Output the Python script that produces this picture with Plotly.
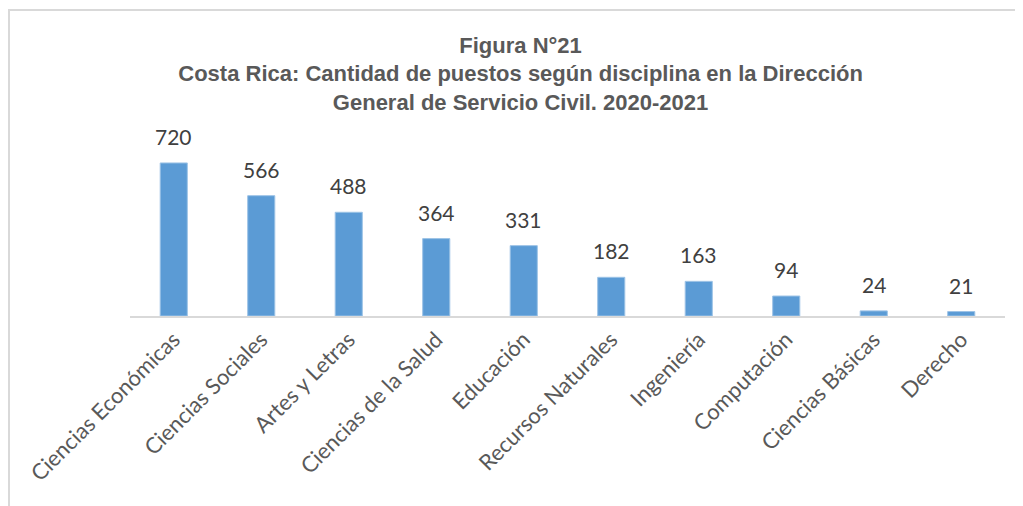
import plotly.graph_objects as go

categories = ["Ciencias Económicas", "Ciencias Sociales", "Artes y Letras", "Ciencias de la Salud",
              "Educación", "Recursos Naturales", "Ingeniería", "Computación", "Ciencias Básicas", "Derecho"]
values = [720, 566, 488, 364, 331, 182, 163, 94, 24, 21]

title_lines = ["Figura N°21",
               "Costa Rica: Cantidad de puestos según disciplina en la Dirección",
               "General de Servicio Civil. 2020-2021"]

label_font = dict(family="Lato, Open Sans, sans-serif", size=21, color="#404040")

fig = go.Figure(go.Bar(
    x=categories, y=values, width=0.31,
    marker=dict(color="#5B9BD5", line=dict(color="#9DC3E6", width=1)),
))

for c, v in zip(categories, values):
    fig.add_annotation(x=c, y=v, text=str(v), showarrow=False, yanchor="bottom", yshift=12,
                       font=label_font)

fig.update_layout(
    width=1015, height=498,
    margin=dict(l=122, r=18, t=122, b=190),
    paper_bgcolor="white", plot_bgcolor="white",
    showlegend=False,
    title=dict(text="<br>".join(title_lines), x=0.505, xanchor="center", y=0.91, yanchor="top",
               font=dict(family="Liberation Sans, Arial, sans-serif", size=22, color="#595959",
                         weight="bold")),
    xaxis=dict(tickangle=-45, showline=True, linecolor="#D9D9D9", linewidth=2, ticks="",
               automargin=False,
               tickfont=dict(family="Lato, Open Sans, sans-serif", size=22, color="#595959"),
               showgrid=False),
    yaxis=dict(range=[0, 875], visible=False, showgrid=False, automargin=False),
    shapes=[dict(type="rect", xref="paper", yref="paper", x0=-(122 - 1) / 875, x1=1.1,
                 y0=-1.5, y1=(186 + 120) / 186,
                 line=dict(color="#D9D9D9", width=2), layer="below")],
)

fig.write_html("out.html")
